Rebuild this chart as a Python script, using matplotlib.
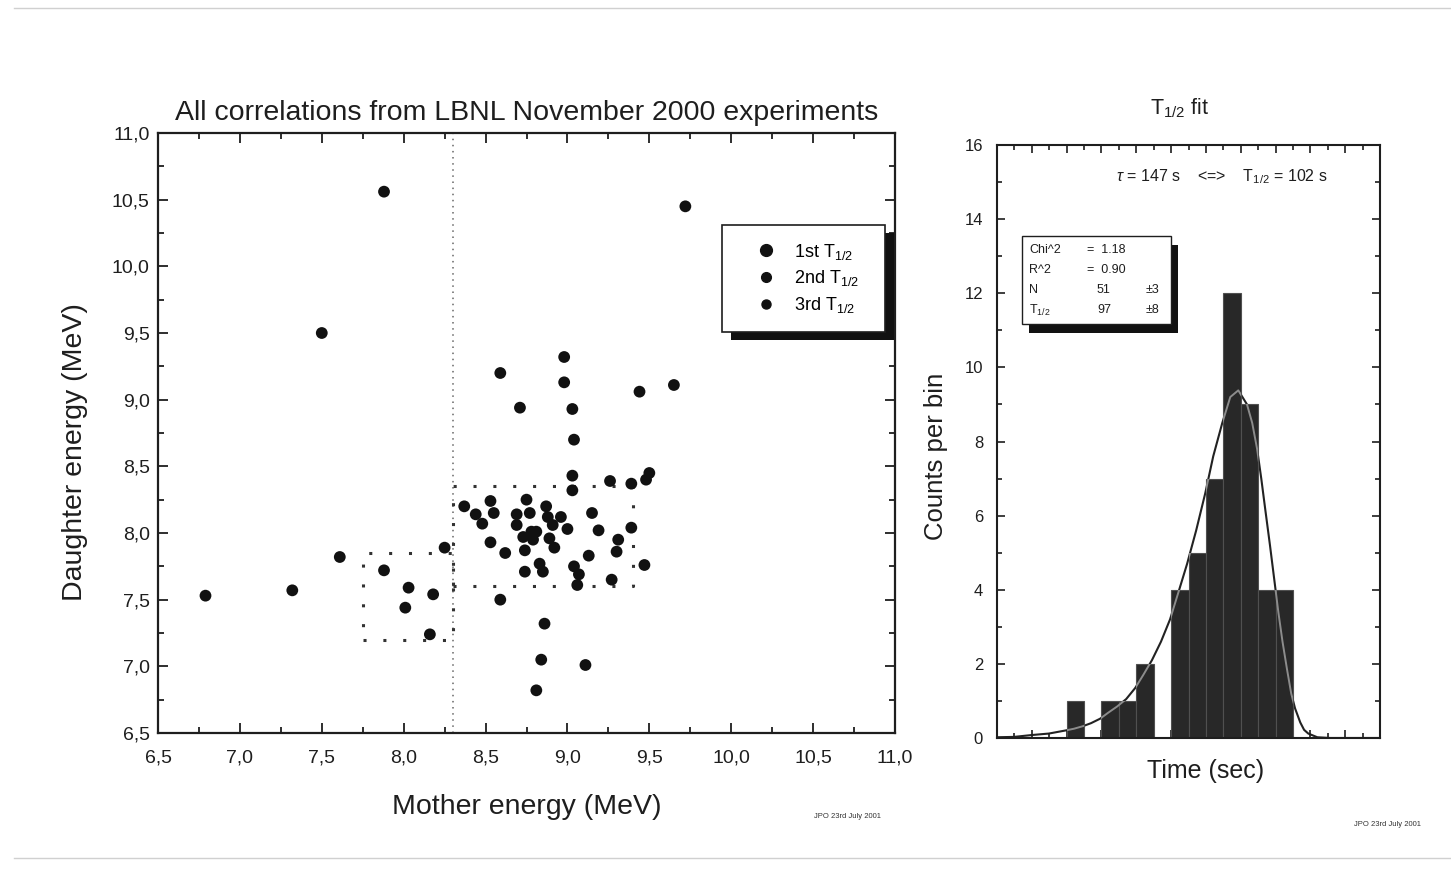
import matplotlib
matplotlib.use("Agg")
import matplotlib.pyplot as plt
from matplotlib.patches import Rectangle
from matplotlib.lines import Line2D
from matplotlib.path import Path
from matplotlib.ticker import MultipleLocator, FuncFormatter

plt.rcParams['font.family'] = ['Liberation Sans', 'DejaVu Sans']
plt.rcParams['mathtext.fontset'] = 'custom'
plt.rcParams['mathtext.rm'] = 'Liberation Sans'
plt.rcParams['mathtext.it'] = 'Liberation Sans:italic'
plt.rcParams['mathtext.bf'] = 'Liberation Sans:bold'

# ---------------- data: left scatter ----------------
mother_energy = [7.88, 9.72, 7.50, 6.79, 7.32, 7.61,
                 7.88, 8.03, 8.01, 8.18, 8.16, 8.25,
                 8.98, 8.59, 8.98, 9.44, 9.65, 8.71, 9.03, 9.04, 9.03, 9.50, 9.48,
                 9.03, 9.26, 9.39, 8.37, 8.53, 8.75, 8.44, 8.48, 8.55, 8.69, 8.69,
                 8.77, 8.87, 8.88, 8.96, 8.91, 9.00, 9.15, 9.19, 9.39, 8.53, 8.73,
                 8.78, 8.81, 8.79, 8.89, 8.92, 8.62, 8.74, 9.13, 9.31, 9.30, 9.47,
                 8.74, 8.83, 8.85, 9.04, 9.07, 9.06, 9.27,
                 8.59, 8.86, 8.84, 9.11, 8.81]
daughter_energy = [10.56, 10.45, 9.50, 7.53, 7.57, 7.82,
                   7.72, 7.59, 7.44, 7.54, 7.24, 7.89,
                   9.32, 9.20, 9.13, 9.06, 9.11, 8.94, 8.93, 8.70, 8.43, 8.45, 8.40,
                   8.32, 8.39, 8.37, 8.20, 8.24, 8.25, 8.14, 8.07, 8.15, 8.14, 8.06,
                   8.15, 8.20, 8.12, 8.12, 8.06, 8.03, 8.15, 8.02, 8.04, 7.93, 7.97,
                   8.01, 8.01, 7.95, 7.96, 7.89, 7.85, 7.87, 7.83, 7.95, 7.86, 7.76,
                   7.71, 7.77, 7.71, 7.75, 7.69, 7.61, 7.65,
                   7.50, 7.32, 7.05, 7.01, 6.82]
legend_labels = [r'1st T$_{\mathrm{1/2}}$', r'2nd T$_{\mathrm{1/2}}$', r'3rd T$_{\mathrm{1/2}}$']
cut_mother = 8.3
box1_x = [7.75, 8.3]
box1_y = [7.2, 7.85]
box2_x = [8.3, 9.4]
box2_y = [7.6, 8.35]

# ---------------- data: right histogram ----------------
bin_edges = [-2.0 + 0.5 * i for i in range(23)]
bin_counts = [0, 0, 0, 0, 1, 0, 1, 1, 2, 0, 4, 5, 7, 12, 9, 4, 4, 0, 0, 0, 0, 0]
fit_x = [-2.0, -1.51, -1.0, -0.51, -0.05, 0.21, 0.47, 0.70, 0.96, 1.19, 1.45, 1.71,
         1.97, 2.20, 2.45, 2.71, 2.97, 3.20, 3.46, 3.72, 3.98, 4.21, 4.47, 4.70,
         4.93, 5.18, 5.33, 5.47, 5.59, 5.70, 5.84, 5.96, 6.08, 6.20, 6.33, 6.45,
         6.56, 6.71, 6.82, 6.94, 7.20, 7.57, 9.0]
fit_y = [0.02, 0.03, 0.08, 0.12, 0.2, 0.25, 0.32, 0.4, 0.52, 0.68, 0.85, 1.05,
         1.35, 1.7, 2.1, 2.6, 3.2, 3.9, 4.7, 5.6, 6.6, 7.6, 8.5, 9.2,
         9.38, 9.0, 8.5, 7.8, 7.0, 6.2, 5.2, 4.3, 3.4, 2.6, 1.85, 1.2,
         0.8, 0.42, 0.22, 0.12, 0.02, 0.0, 0.0]
stats_rows = [("Chi^2", "=  1.18", ""), ("R^2", "=  0.90", ""),
              ("N", "51", "\u00b13"), (r"T$_{\mathrm{1/2}}$", "97", "\u00b18")]

W, H = 1451, 877
fig = plt.figure(figsize=(W / 100, H / 100), dpi=100)
fig.patch.set_facecolor('white')
INK = '#1e1e1e'


def fx(px):
    return px / W


def fy(py):
    return 1 - py / H


# ---------- left axes ----------
ax = fig.add_axes([fx(158), fy(733), fx(895) - fx(158), fy(133) - fy(733)])
ax.scatter(mother_energy, daughter_energy, s=72, c='#111111', edgecolors='none', zorder=3)
ax.set_xlim(6.5, 11.0)
ax.set_ylim(6.5, 11.0)
ax.xaxis.set_major_locator(MultipleLocator(0.5))
ax.yaxis.set_major_locator(MultipleLocator(0.5))
ax.xaxis.set_minor_locator(MultipleLocator(0.25))
ax.yaxis.set_minor_locator(MultipleLocator(0.25))
comma = FuncFormatter(lambda v, p: f"{v:.1f}".replace('.', ','))
ax.xaxis.set_major_formatter(comma)
ax.yaxis.set_major_formatter(comma)
ax.tick_params(which='both', direction='in', top=True, right=True, width=1.3, colors=INK)
ax.tick_params(which='major', length=7, labelsize=14)
ax.tick_params(axis='x', which='major', pad=12)
ax.tick_params(axis='y', which='major', pad=6)
ax.tick_params(which='minor', length=4)
for s in ax.spines.values():
    s.set_linewidth(1.6)
    s.set_color(INK)

ax.axvline(cut_mother, color='#666666', lw=1.1, ls=(0, (1, 3)), zorder=1)
for bx, by in ((box1_x, box1_y), (box2_x, box2_y)):
    ax.plot([bx[0], bx[1], bx[1], bx[0], bx[0]], [by[0], by[0], by[1], by[1], by[0]],
            color='#333333', lw=2.2, ls=(0, (1, 5.5)), zorder=2)

ax.set_title('All correlations from LBNL November 2000 experiments', fontsize=20.5, pad=9, color=INK)
ax.set_xlabel('Mother energy (MeV)', fontsize=20.5, labelpad=20, color=INK)
ax.set_ylabel('Daughter energy (MeV)', fontsize=20.5, labelpad=17, color=INK)
ax.yaxis.label.set_y((733 - 452) / 600)

# legend with shadow
lx0, lx1 = (722 - 158) / 737, (885 - 158) / 737
ly1, ly0 = (733 - 225) / 600, (733 - 332) / 600
ax.add_patch(Rectangle((lx0 + 9 / 737, ly0 - 8 / 600), lx1 - lx0, ly1 - ly0, transform=ax.transAxes,
                       facecolor='#111111', edgecolor='none', zorder=6))
ax.add_patch(Rectangle((lx0, ly0), lx1 - lx0, ly1 - ly0, transform=ax.transAxes,
                       facecolor='white', edgecolor=INK, lw=1.2, zorder=7))
handles = [Line2D([], [], ls='none', marker='o', ms=8.5, color='#111111'),
           Line2D([], [], ls='none', marker='o', ms=7, color='#111111'),
           Line2D([], [], ls='none', marker='o', ms=6.5, color='#111111')]
leg = ax.legend(handles, legend_labels, loc='center', bbox_to_anchor=((lx0 + lx1) / 2 + 0.005, (ly0 + ly1) / 2),
                frameon=False, fontsize=13, handletextpad=0.9, labelspacing=0.38, handlelength=1.2)
leg.set_zorder(8)

# ---------- right axes ----------
ax2 = fig.add_axes([fx(997), fy(738), fx(1380) - fx(997), fy(145) - fy(738)])
centers = [(bin_edges[i] + bin_edges[i + 1]) / 2 for i in range(len(bin_counts))]
bars = ax2.bar(centers, bin_counts, width=0.5, color='#282828', edgecolor='#505050', lw=0.8, zorder=2)
# dark fit line on white background, lighter where it crosses the bars
ax2.plot(fit_x, fit_y, color='#222222', lw=1.5, zorder=1.5)
light = ax2.plot(fit_x, fit_y, color='#8c8c8c', lw=1.4, zorder=3)[0]
rects = [Path([(b.get_x(), 0), (b.get_x() + b.get_width(), 0),
               (b.get_x() + b.get_width(), b.get_height()), (b.get_x(), b.get_height()), (b.get_x(), 0)],
              [Path.MOVETO, Path.LINETO, Path.LINETO, Path.LINETO, Path.CLOSEPOLY])
         for b in bars if b.get_height() > 0]
light.set_clip_path(Path.make_compound_path(*rects), transform=ax2.transData)

ax2.set_xlim(bin_edges[0], bin_edges[-1])
ax2.set_ylim(0, 16)
ax2.xaxis.set_major_locator(MultipleLocator(1.0))
ax2.xaxis.set_minor_locator(MultipleLocator(0.5))
ax2.yaxis.set_major_locator(MultipleLocator(2))
ax2.yaxis.set_minor_locator(MultipleLocator(1))
ax2.tick_params(axis='x', labelbottom=False)
ax2.tick_params(which='both', direction='in', top=True, right=True, width=1.2, colors=INK)
ax2.tick_params(which='major', length=6, labelsize=12, pad=10)
ax2.tick_params(which='minor', length=3.5)
for s in ax2.spines.values():
    s.set_linewidth(1.5)
    s.set_color(INK)
ax2.set_ylabel('Counts per bin', fontsize=18.5, labelpad=12, color=INK)
ax2.yaxis.label.set_y((738 - 456) / 593)

fig.text(fx(1180), fy(108), r'T$_{\mathrm{1/2}}$ fit', fontsize=15.5, ha='center', va='center', color=INK)
fig.text(fx(1206), fy(771), 'Time (sec)', fontsize=18, ha='center', va='center', color=INK)
fig.text(fx(1222), fy(177), r'$\tau$ = 147 s    <=>    T$_{\mathrm{1/2}}$ = 102 s', fontsize=11.5,
         ha='center', va='center', color=INK)

# stats box
bx0, bx1, by0, by1 = 1022, 1171, 236, 324
fig.patches.append(Rectangle((fx(bx0 + 7), fy(by1 + 9)), fx(bx1) - fx(bx0), fy(by0) - fy(by1),
                             transform=fig.transFigure, facecolor='#111111', edgecolor='none', zorder=5))
fig.patches.append(Rectangle((fx(bx0), fy(by1)), fx(bx1) - fx(bx0), fy(by0) - fy(by1),
                             transform=fig.transFigure, facecolor='white', edgecolor=INK, lw=1.0, zorder=6))
row_y = [250, 270, 290, 310]
for (lab, val, err), ry in zip(stats_rows, row_y):
    fig.text(fx(1029), fy(ry), lab, fontsize=9, va='center', ha='left', color=INK, zorder=7)
    vx = 1087 if val.startswith('=') else 1097
    fig.text(fx(vx), fy(ry), val, fontsize=9, va='center', ha='left', color=INK, zorder=7)
    if err:
        fig.text(fx(1146), fy(ry), err, fontsize=9, va='center', ha='left', color=INK, zorder=7)

# footers
fig.text(fx(848), fy(816), 'JPO 23rd July 2001', fontsize=5.5, ha='center', va='center', color='#333333')
fig.text(fx(1387), fy(824), 'JPO 23rd July 2001', fontsize=5.5, ha='center', va='center', color='#333333')

# faint scan page border
fig.add_artist(Line2D([fx(14), fx(1451)], [fy(8), fy(8)], transform=fig.transFigure, color='#d0d0d0', lw=1))
fig.add_artist(Line2D([fx(14), fx(1451)], [fy(858), fy(858)], transform=fig.transFigure, color='#d0d0d0', lw=1))

fig.savefig('out.png', dpi=100)
